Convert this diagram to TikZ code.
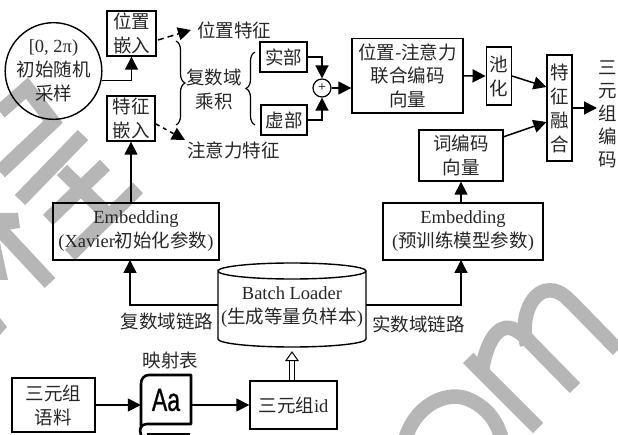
\documentclass[tikz,border=0pt]{standalone}
\usepackage{fontspec}
\setmainfont{Liberation Serif}
\newfontfamily\cjk{Noto Sans CJK SC}
\newcommand{\C}[1]{{\cjk #1}}
\usetikzlibrary{arrows.meta,shapes.geometric,decorations.pathreplacing,calc}
\definecolor{wm}{HTML}{B6B6B6}
\tikzset{
  txt/.style={font=\fontsize{18.5}{24}\selectfont,inner sep=0pt,align=center,text=black!85},
  box/.style={txt,draw=black,line width=1.4pt,minimum width=#1},
  arr/.style={line width=1.5pt,-{Triangle[length=13pt,width=13pt]}},
  wmk/.style={draw=wm,line width=14.5pt},
  brc/.style={line width=1.2pt,decorate,decoration={brace,amplitude=9pt,aspect=.5}},
}
\begin{document}
\begin{tikzpicture}[x=1pt,y=-1pt]
\useasboundingbox (0,0) rectangle (618,435);
% watermark
\draw[wmk] (0,112) -- (27,88) -- (53,122) -- (0,172);
\draw[wmk] (83,135) -- (20,200);
\draw[wmk] (105,165) -- (48,220);
\draw[wmk] (138,188) -- (70,255);
\draw[wmk] (62,170) -- (105,212);
\draw[wmk] (-5,224) -- (50,283);
\fill[wm] (0,213) -- (18,213) -- (20,228) -- (0,231) -- cycle;
\fill[wm] (0,243) -- (8,280) -- (0,280) -- cycle;
\fill[wm] (0,318) -- (7,327) -- (0,335) -- cycle;
\begin{scope}
  \clip (0,0) rectangle (618,435);
  \draw[wmk] (405,440) .. controls (415,405) and (445,392) .. (465,398) .. controls (485,405) and (497,420) .. (502,440);
  \draw[wmk] (468,358) -- (538,428);
  \draw[wmk] (482,372) .. controls (485,345) and (497,325) .. (510,328) .. controls (518,330) and (522,334) .. (530,342) -- (575,388);
  \draw[wmk] (527,345) .. controls (520,320) and (530,295) .. (545,291) .. controls (558,288) and (565,296) .. (575,306) -- (618,350);
\end{scope}
% top-left
\node[circle,draw=black,line width=1.4pt,minimum size=84pt,txt,draw] (circ) at (53.5,71) {[0, 2π)\\\C{初始随机}\\\C{采样}};
\node[box=49pt,minimum height=45pt] (pos) at (131.5,33.5) {\C{位置}\\\C{嵌入}};
\node[box=48pt,minimum height=45pt] (spe) at (131,118.5) {\C{特征}\\\C{嵌入}};
\node[txt] (posf) at (234,30) {\C{位置特征}};
\node[txt] (attf) at (233.5,150) {\C{注意力特征}};
\node[txt] (cplx) at (214,89) {\C{复数域}\\\C{乘积}};
\node[box=47pt,minimum height=30pt] (re) at (283.5,57) {\C{实部}};
\node[box=46pt,minimum height=30pt] (im) at (284,120) {\C{虚部}};
\node[circle,draw=black,line width=1.2pt,minimum size=18pt,inner sep=0pt,font=\fontsize{14}{14}\selectfont] (plus) at (322,88) {+};
\node[box=111pt,minimum height=74.5pt,font=\fontsize{18.5}{23.5}\selectfont] (joint) at (407.5,75.75) {\C{位置-注意力}\\\C{联合编码}\\\C{向量}};
\node[box=25.5pt,minimum height=58pt] (pool) at (499,76) {\C{池}\\\C{化}};
\node[box=25pt,minimum height=106pt] (fuse) at (559.5,108) {\C{特}\\\C{征}\\\C{融}\\\C{合}};
\node[box=84pt,minimum height=51pt] (word) at (461,155.5) {\C{词编码}\\\C{向量}};
\node[txt,font=\fontsize{18.5}{23}\selectfont] (out) at (608,114) {\C{三}\\\C{元}\\\C{组}\\\C{编}\\\C{码}};
\node[box=160pt,minimum height=57pt] (emb2) at (463,231.5) {Embedding\\(\C{预训练模型参数})};
\node[box=166pt,minimum height=57pt] (emb1) at (136,231.5) {Embedding\\(Xavier\C{初始化参数})};
% database
\node[minimum width=148pt,minimum height=84pt,inner sep=0pt] (db) at (292,305) {};
\draw[line width=1.4pt] (218,271) arc[start angle=180,end angle=0,x radius=74pt,y radius=8pt] arc[start angle=0,end angle=-180,x radius=74pt,y radius=8pt] -- (218,339) arc[start angle=180,end angle=360,x radius=74pt,y radius=8pt] -- (366,271);
\node[txt] (dbt) at (292,307.5) {Batch Loader\\(\C{生成等量负样本})};
\node[txt] (lc) at (167,321) {\C{复数域链路}};
\node[txt] (lr) at (418.5,324) {\C{实数域链路}};
% bottom
\node[box=83pt,minimum height=54pt] (corpus) at (53.5,405) {\C{三元组}\\\C{语料}};
\node[txt] (map) at (170.5,360) {\C{映射表}};
\node[minimum width=50pt,minimum height=50pt,inner sep=0pt] (book) at (166,400) {};
\node[font=\fontsize{32}{32}\selectfont,inner sep=0pt,xscale=.72] (aa) at (166,400) {\fontspec{Liberation Sans}[FakeBold=1]Aa};
\node[box=87pt,minimum height=48pt] (idb) at (293.5,405) {\C{三元组}id};
% book outline
\draw[line width=2.6pt,line join=round] (141,435) .. controls (139,429) and (140,425) .. (147,424) -- (191,424) -- (191,375) -- (149,375) .. controls (144,375) and (141,379) .. (141,384) -- (141,428);
\draw[line width=2.6pt] (147,434) -- (190,434);
% connectors
\coordinate (a1) at (158,40); \coordinate (a1e) at (191,30);
\coordinate (a2) at (156,124); \coordinate (a2e) at (185,140);
\draw[arr] (circ.-11) -| (pos.south);
\draw[arr,dash pattern=on 6pt off 4pt] (a1) -- (a1e);
\draw[arr,dash pattern=on 4pt off 4pt] (a2) -- (a2e);
\draw[arr] (emb1.north -| spe.south) -- (spe.south);
\draw[brc] (176,41) -- (176,125);
\draw[brc] (255,125) -- (255,52);
\draw[arr] (re.east) -| (plus.north);
\draw[arr] (im.east) -| (plus.south);
\draw[arr] (plus.east) -- (joint.west |- plus.east);
\draw[arr] (joint.east) -- (pool.west);
\coordinate (f1) at (546.5,87); \coordinate (f2) at (546.5,122);
\coordinate (p1) at (512,76); \coordinate (w1) at (503,137);
\draw[arr] (p1) -- (f1);
\draw[arr] (w1) -- (f2);
\draw[arr] (fuse.east) -- (597,108);
\draw[arr] (emb2.north -| word.south) -- (word.south);
\coordinate (c1) at (130,260); \coordinate (c2) at (461,260);
\draw[arr] (db.west) -| (c1);
\draw[arr] (db.east) -| (c2);
\draw[line width=1pt,double,double distance=4pt,shorten >=4pt,-{Triangle[open,length=10pt,width=14pt,line width=1pt]}] (idb.north -| db.south) -- (db.south);
\draw[arr] (corpus.east) -- (corpus.east -| book.west);
\draw[arr] (corpus.east -| book.east) -- (idb.west);
\end{tikzpicture}
\end{document}
